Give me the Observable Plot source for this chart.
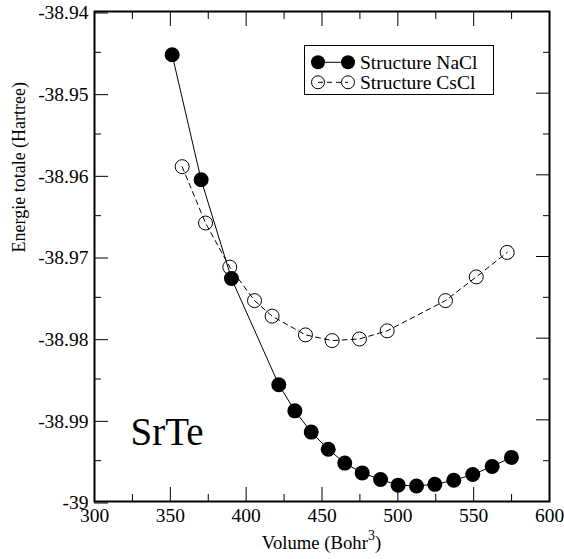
<!DOCTYPE html>
<html><head><meta charset="utf-8">
<script src="https://cdn.jsdelivr.net/npm/d3@7"></script>
<script src="https://cdn.jsdelivr.net/npm/@observablehq/plot@0.6"></script>
<style>
body{margin:0;background:#fff;}
#wrap{position:relative;width:564px;height:559px;font-family:"Liberation Serif","Times New Roman",serif;color:#000;}
#wrap svg, #wrap svg text{font-family:"Liberation Serif","Times New Roman",serif !important;font-variant:normal !important;}
#xtitle{position:absolute;left:94px;width:455px;top:534px;text-align:center;font-size:18.7px;line-height:18px;white-space:nowrap;color:#000;}
#xtitle .sup{font-size:14px;position:relative;top:-9.5px;}
#legend{position:absolute;left:304px;top:45px;}
</style></head><body><div id="wrap"></div>
<script>
// NaCl structure (filled circles, solid line)
const volNaCl = [351.2, 370.3, 390.3, 421.5, 432.1, 442.9, 454.1, 465.0, 476.5, 488.6, 500.2, 512.3, 524.4, 536.9, 549.4, 562.2, 574.9];
const eNaCl = [-38.9453, -38.9606, -38.9727, -38.9857, -38.9889, -38.9915, -38.9936, -38.9953, -38.9965, -38.9973, -38.9980, -38.9981, -38.9979, -38.9974, -38.9967, -38.9957, -38.9946];
// CsCl structure (open circles, dashed line)
const volCsCl = [357.8, 373.2, 389.2, 405.5, 417.1, 439.1, 456.7, 474.7, 493.0, 531.4, 551.7, 572.1];
const eCsCl = [-38.9590, -38.9659, -38.9713, -38.9754, -38.9773, -38.9796, -38.9803, -38.9801, -38.9791, -38.9754, -38.9725, -38.9695];
// ticks
const xMajor = [300, 350, 400, 450, 500, 550, 600];
const xMinor = [325, 375, 425, 475, 525, 575];
const yMajor = [-38.94, -38.95, -38.96, -38.97, -38.98, -38.99, -39];
const yMinor = [-38.945, -38.955, -38.965, -38.975, -38.985, -38.995];
const seriesNames = ["Structure NaCl", "Structure CsCl"];
const compound = "SrTe";
const xTitle = "Volume (Bohr";
const xTitleSup = "3";
const yTitle = "Energie totale (Hartree)";

const SERIF = '"Liberation Serif","Times New Roman",serif';
const nacl = volNaCl.map((v, i) => ({v, e: eNaCl[i]}));
const cscl = volCsCl.map((v, i) => ({v, e: eCsCl[i]}));
const blank = () => "";
const fmtY = d => String(+(+d).toFixed(2));

const chart = Plot.plot({
  width: 564, height: 559,
  marginLeft: 94, marginRight: 15, marginTop: 11, marginBottom: 58,
  x: {domain: [300, 600]},
  y: {domain: [-39, -38.94]},
  style: {fontFamily: SERIF, background: "white", color: "black"},
  marks: [
    Plot.axisX({anchor: "bottom", ticks: xMajor, tickSize: -14, tickPadding: 21, fontSize: 19.5, fontFamily: SERIF, fill: "black", stroke: "black", tickFormat: d => String(d), label: null}),
    Plot.axisX({anchor: "bottom", ticks: xMinor, tickSize: -7, tickFormat: blank, stroke: "black", label: null}),
    Plot.axisX({anchor: "top", ticks: xMajor, tickSize: -14, tickFormat: blank, stroke: "black", label: null}),
    Plot.axisX({anchor: "top", ticks: xMinor, tickSize: -7, tickFormat: blank, stroke: "black", label: null}),
    Plot.axisY({anchor: "left", ticks: yMajor, tickSize: -14, tickPadding: 20, fontSize: 19.5, fontFamily: SERIF, fill: "black", stroke: "black", tickFormat: fmtY, dy: 1.5, label: null}),
    Plot.axisY({anchor: "left", ticks: yMinor, tickSize: -7, tickFormat: blank, stroke: "black", label: null}),
    Plot.axisY({anchor: "right", ticks: yMajor, tickSize: -14, tickFormat: blank, stroke: "black", label: null}),
    Plot.axisY({anchor: "right", ticks: yMinor, tickSize: -7, tickFormat: blank, stroke: "black", label: null}),
    Plot.line(nacl, {x: "v", y: "e", stroke: "black", strokeWidth: 1}),
    Plot.line(cscl, {x: "v", y: "e", stroke: "black", strokeWidth: 1, strokeDasharray: "5,4"}),
    Plot.dot(nacl, {x: "v", y: "e", r: 7.5, fill: "black", stroke: "none"}),
    Plot.dot(cscl, {x: "v", y: "e", r: 7, fill: "none", stroke: "black", strokeWidth: 1}),
    Plot.text([compound], {frameAnchor: "bottom-left", text: d => d, dx: 36, dy: -57, textAnchor: "start", lineAnchor: "bottom", fontSize: 39, fontFamily: SERIF, fill: "black"}),
    Plot.text([yTitle], {frameAnchor: "left", text: d => d, rotate: -90, dx: -75, dy: -4, fontSize: 18, fontFamily: SERIF, fill: "black"}),
    Plot.frame({stroke: "black", strokeWidth: 2})
  ]
});

const wrap = document.getElementById("wrap");
wrap.appendChild(chart);

const xt = document.createElement("div");
xt.id = "xtitle";
xt.appendChild(document.createTextNode(xTitle));
const sp = document.createElement("span");
sp.className = "sup";
sp.textContent = xTitleSup;
xt.appendChild(sp);
xt.appendChild(document.createTextNode(")"));
wrap.appendChild(xt);

// legend
const lg = d3.select(wrap).append("svg").attr("id", "legend").attr("width", 191).attr("height", 51);
lg.append("rect").attr("x", 0.5).attr("y", 0.5).attr("width", 189).attr("height", 49).attr("fill", "white").attr("stroke", "black").attr("stroke-width", 1);
const rows = [17.3, 37.3];
const bases = [23.5, 44];
seriesNames.forEach((name, i) => {
  const y = rows[i];
  lg.append("line").attr("x1", 14).attr("x2", 44).attr("y1", y).attr("y2", y)
    .attr("stroke", "black").attr("stroke-width", 1).attr("stroke-dasharray", i ? "5,4" : null);
  [14, 44].forEach(cx => {
    lg.append("circle").attr("cx", cx).attr("cy", y).attr("r", i ? 6.5 : 7)
      .attr("fill", i ? "none" : "black").attr("stroke", i ? "black" : "none");
  });
  lg.append("text").attr("x", 56).attr("y", bases[i]).attr("font-size", 19.5)
    .attr("font-family", SERIF).attr("fill", "black").text(name);
});
</script>
</body></html>
